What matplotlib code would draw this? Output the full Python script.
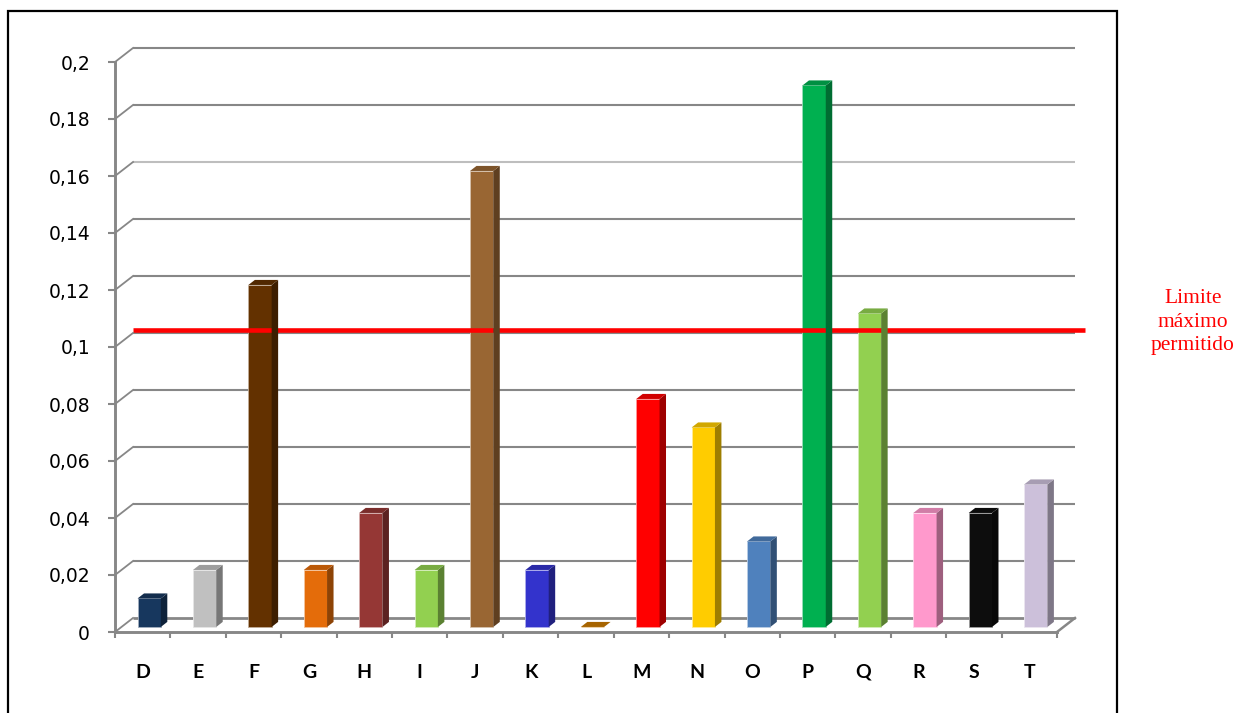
import matplotlib
matplotlib.use("Agg")
import matplotlib.pyplot as plt
from matplotlib.patches import Polygon, Rectangle
from matplotlib.lines import Line2D
from matplotlib.transforms import ScaledTranslation, IdentityTransform
import matplotlib.colors as mcolors
import numpy as np

# ---------------- data ----------------
categories = ["D", "E", "F", "G", "H", "I", "J", "K", "L",
              "M", "N", "O", "P", "Q", "R", "S", "T"]
values = [0.01, 0.02, 0.12, 0.02, 0.04, 0.02, 0.16, 0.02, 0.0,
          0.08, 0.07, 0.03, 0.19, 0.11, 0.04, 0.04, 0.05]
bar_colors = ["#17375E", "#C0C0C0", "#633100", "#E46C0A", "#953735",
              "#92D050", "#996633", "#3333CC", "#CC7A00", "#FF0000",
              "#FFCC00", "#4F81BD", "#00B050", "#92D050", "#FF99CC",
              "#0D0D0D", "#CCC0DA"]
y_ticks = [0, 0.02, 0.04, 0.06, 0.08, 0.1, 0.12, 0.14, 0.16, 0.18, 0.2]
y_tick_labels = ["0", "0,02", "0,04", "0,06", "0,08", "0,1",
                 "0,12", "0,14", "0,16", "0,18", "0,2"]
limit_value = 0.101
limit_label = "Limite\nmáximo\npermitido"

# ---------------- layout / style ----------------
W, H, DPI = 1233, 713, 100
GRID = "#878787"
GRID_LIGHT = "#BEBEBE"
DX, DY = 18, 14          # floor depth offset (pixels)
Z0, Z1 = 0.36, 0.72      # bar depth range (fraction of floor depth)
BAR_W = 0.42

fig = plt.figure(figsize=(W / DPI, H / DPI), dpi=DPI)
fig.patch.set_facecolor("white")
ax = fig.add_axes([115 / W, (H - 632) / H, (1057 - 115) / W, 570 / H])
n = len(categories)
ax.set_xlim(-0.5, n - 0.5)
ax.set_ylim(0, 0.2)
ax.patch.set_visible(False)


def offset(z):
    return ax.transData + ScaledTranslation(z * DX / DPI, z * DY / DPI,
                                            fig.dpi_scale_trans)


def disp(x, y, z):
    px, py = ax.transData.transform((x, y))
    return (px + z * DX, py + z * DY)


def shade(c, f):
    r, g, b = mcolors.to_rgb(c)
    return (r * f, g * f, b * f)


def tint(c, f):
    r, g, b = mcolors.to_rgb(c)
    return (r + (1 - r) * f, g + (1 - g) * f, b + (1 - b) * f)


# spines / axes
for s in ("top", "right"):
    ax.spines[s].set_visible(False)
for s in ("left", "bottom"):
    ax.spines[s].set_color(GRID)
    ax.spines[s].set_linewidth(2.1)

ax.set_yticks(y_ticks, y_tick_labels)
ax.tick_params(axis="y", length=5, width=1.5, color=GRID, pad=13,
               labelsize=13.5, labelcolor="black")
for lab in ax.get_yticklabels():
    lab.set_family("DejaVu Sans")

ax.set_xticks(range(n), categories)
ax.set_xticks(np.arange(-0.5, n, 1.0), minor=True)
ax.tick_params(axis="x", which="major", length=0, pad=23, labelsize=14)
ax.tick_params(axis="x", which="minor", length=4.5, width=1.5, color=GRID)
for lab in ax.get_xticklabels():
    lab.set_family("Lato")
    lab.set_fontweight("bold")

# back wall gridlines + left wall diagonals
x0, x1 = -0.5, n - 0.5
for v in y_ticks:
    col = GRID_LIGHT if abs(v - 0.16) < 1e-9 else GRID
    lw = 2.0 if v == 0 else 1.5
    ax.plot([x0, x1], [v, v], color=col, lw=lw, transform=offset(1.0),
            clip_on=False, zorder=1, solid_capstyle="butt")
    a, b = disp(x0, v, 0), disp(x0, v, 1)
    fig.add_artist(Line2D([a[0], b[0]], [a[1], b[1]], color=GRID, lw=1.3,
                          transform=IdentityTransform(), zorder=1))
# right floor edge
a, b = disp(x1, 0, 0), disp(x1, 0, 1)
fig.add_artist(Line2D([a[0], b[0]], [a[1], b[1]], color=GRID, lw=1.8,
                      transform=IdentityTransform(), zorder=1))

# bars
for i, (v, c) in enumerate(zip(values, bar_colors)):
    xl, xr = i - BAR_W / 2, i + BAR_W / 2
    side = Polygon([disp(xr, 0, Z0), disp(xr, 0, Z1), disp(xr, v, Z1),
                    disp(xr, v, Z0)], closed=True, facecolor=shade(c, 0.62),
                   edgecolor="none", transform=IdentityTransform(), zorder=3)
    fig.add_artist(side)
    top = Polygon([disp(xl, v, Z0), disp(xr, v, Z0), disp(xr, v, Z1),
                   disp(xl, v, Z1)], closed=True, facecolor=shade(c, 0.82),
                  edgecolor="none", transform=IdentityTransform(), zorder=3)
    fig.add_artist(top)
    ax.bar(i, v, width=BAR_W, color=c, edgecolor=tint(c, 0.6), linewidth=0.6,
           transform=offset(Z0), clip_on=False, zorder=4)

# limit line
ax.plot([x0, x1 + 0.18], [limit_value, limit_value], color="#FF0000", lw=3.3,
        transform=offset(1.0), clip_on=False, zorder=6, solid_capstyle="butt")

fig.text(1193 / W, 1 - 322 / H, limit_label, ha="center", va="center",
         color="#FF0000", family="Liberation Serif", fontsize=15.5,
         linespacing=1.3)

# outer frame (bottom edge below the image)
fig.add_artist(Rectangle((7.5 / W, -0.05), (1116.5 - 7.5) / W,
                         (H - 11) / H + 0.05, transform=fig.transFigure,
                         fill=False, edgecolor="black", lw=1.6, zorder=10))

fig.savefig("out.png", dpi=DPI)
